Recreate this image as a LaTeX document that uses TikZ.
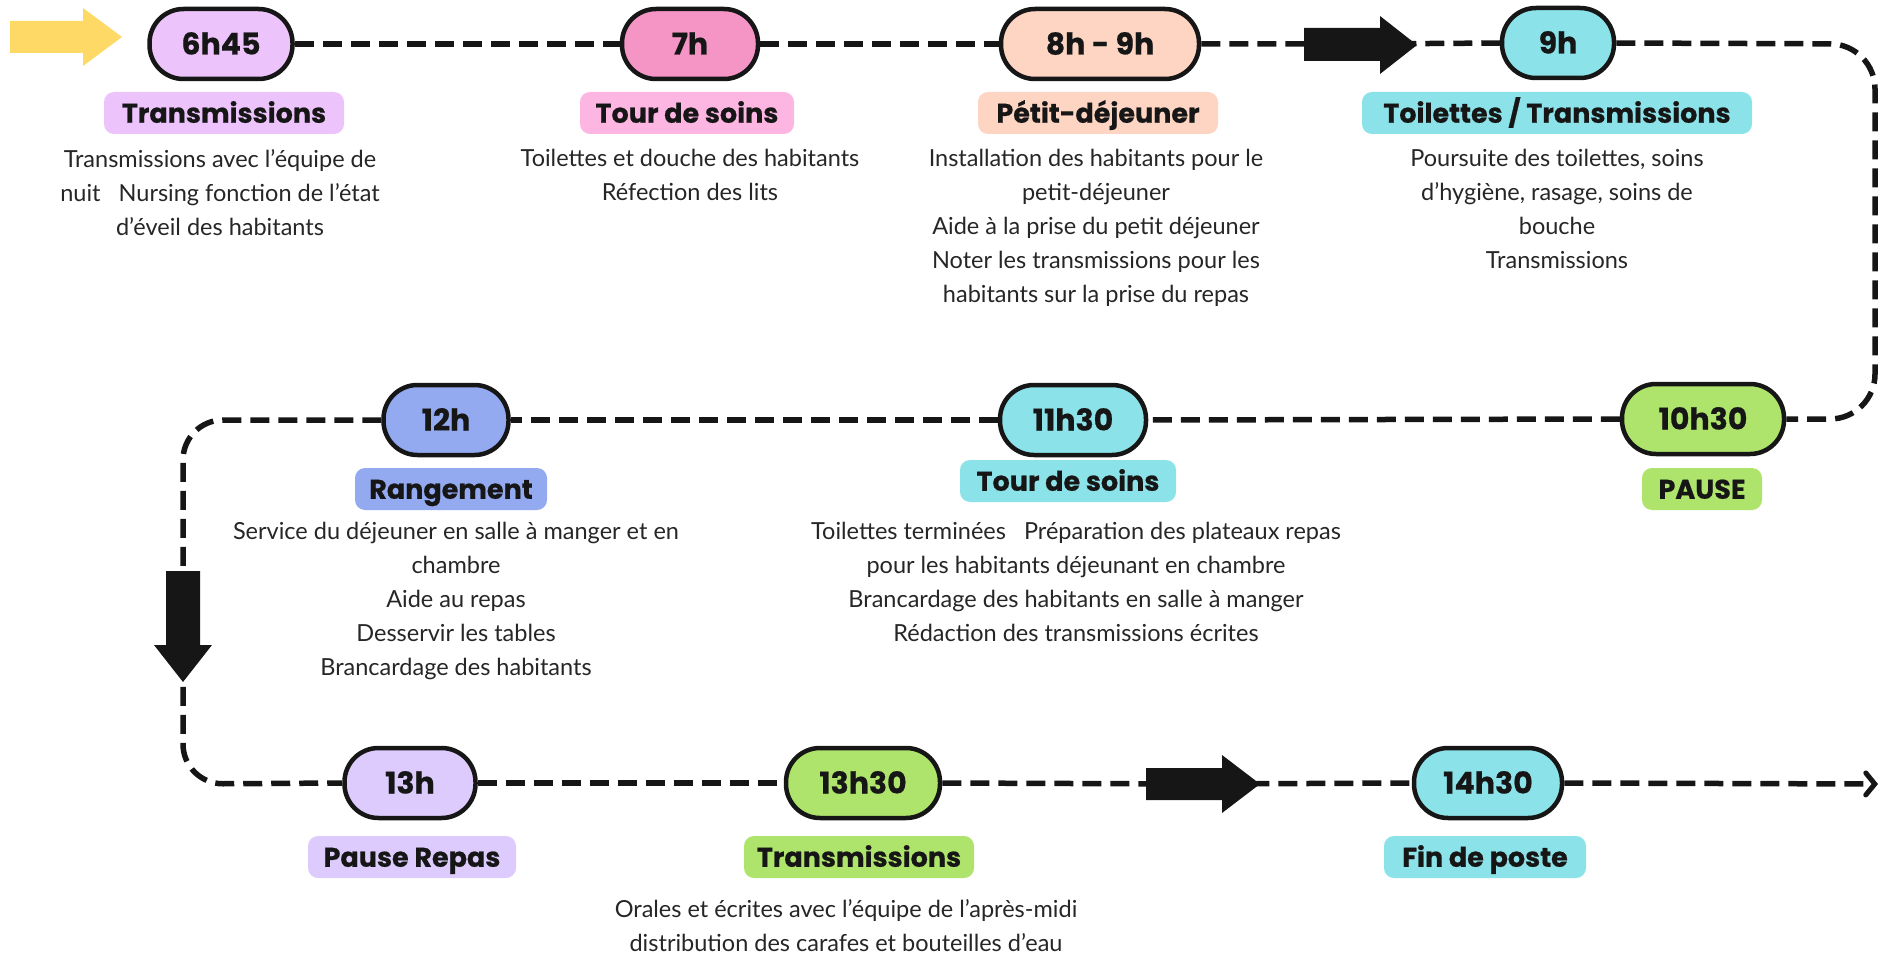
\documentclass[tikz,border=0pt]{standalone}
\usepackage{fontspec}
\setmainfont{Lato}
\newfontfamily\hfont{Poppins}[BoldFeatures={FakeBold=0.6}]
\usetikzlibrary{arrows.meta}
\definecolor{ink}{HTML}{161616}
\definecolor{lilac}{HTML}{EDC3FB}
\definecolor{pinkA}{HTML}{F595C6}
\definecolor{pinkB}{HTML}{FDB6E2}
\definecolor{peach}{HTML}{FED4C2}
\definecolor{tealc}{HTML}{8BE2E8}
\definecolor{greenc}{HTML}{AEE46B}
\definecolor{bluec}{HTML}{93AAF0}
\definecolor{lav}{HTML}{DCCBFC}
\definecolor{yel}{HTML}{FFD966}
\definecolor{desctext}{HTML}{262626}
\tikzset{
  pill/.style={draw=ink, line width=4.5pt, rounded corners=34pt, minimum height=70pt, inner sep=0pt, text height=21pt, text depth=0pt, font=\hfont\bfseries\fontsize{30}{36}\selectfont, text=ink},
  tag/.style={rounded corners=10pt, minimum height=42pt, inner sep=0pt, text height=19.5pt, text depth=0pt, font=\hfont\bfseries\fontsize{27}{30}\selectfont, text=ink},
  desc/.style={anchor=north, align=center, inner sep=0pt, font=\fontsize{23.5}{34}\selectfont, text=desctext},
  dashline/.style={draw=ink, line width=5.5pt, dash pattern=on 19pt off 9pt},
  bigarrow/.style={fill=ink},
}
\begin{document}
\begin{tikzpicture}[x=1pt,y=-1pt]
\useasboundingbox (0,0) rectangle (1882,955);
% pills
\node[pill, fill=lilac, minimum width=143pt] (p645) at (221,44) {6h45};
\node[pill, fill=pinkA, minimum width=136pt] (p7) at (690,44) {7h};
\node[pill, fill=peach, minimum width=198pt] (p89) at (1100,44) {8h - 9h};
\node[pill, fill=tealc, minimum width=112pt] (p9) at (1558,43) {9h};
\node[pill, fill=greenc, minimum width=162pt] (p1030) at (1703,419) {10h30};
\node[pill, fill=tealc, minimum width=146pt] (p1130) at (1073,420) {11h30};
\node[pill, fill=bluec, minimum width=125pt] (p12) at (446,420) {12h};
\node[pill, fill=lav, minimum width=131pt] (p13) at (410,783) {13h};
\node[pill, fill=greenc, minimum width=154pt] (p1330) at (863,783) {13h30};
\node[pill, fill=tealc, minimum width=148pt] (p1430) at (1488,783) {14h30};
% tags
\node[tag, fill=lilac, minimum width=240pt] (l645) at (224,113) {Transmissions};
\node[tag, fill=pinkB, minimum width=214pt] (l7) at (687,113) {Tour de soins};
\node[tag, fill=peach, minimum width=240pt] (l89) at (1098,113) {Pétit-déjeuner};
\node[tag, fill=tealc, minimum width=390pt] (l9) at (1557,113) {Toilettes / Transmissions};
\node[tag, fill=greenc, minimum width=120pt] (l1030) at (1702,489) {PAUSE};
\node[tag, fill=tealc, minimum width=216pt] (l1130) at (1068,481) {Tour de soins};
\node[tag, fill=bluec, minimum width=192pt] (l12) at (451,489) {Rangement};
\node[tag, fill=lav, minimum width=208pt] (l13) at (412,857) {Pause Repas};
\node[tag, fill=greenc, minimum width=230pt] (l1330) at (859,857) {Transmissions};
\node[tag, fill=tealc, minimum width=202pt] (l1430) at (1485,857) {Fin de poste};
% descriptions
\node[desc] (d645) at (220,149) {Transmissions avec l’équipe de\\nuit\ \ \ Nursing fonction de l’état\\d’éveil des habitants};
\node[desc] (d7) at (690,149) {Toilettes et douche des habitants\\Réfection des lits};
\node[desc] (d89) at (1096,149) {Installation des habitants pour le\\petit-déjeuner\\Aide à la prise du petit déjeuner\\Noter les transmissions pour les\\habitants sur la prise du repas};
\node[desc] (d9) at (1557,149) {Poursuite des toilettes, soins\\d’hygiène, rasage, soins de\\bouche\\Transmissions};
\node[desc] (d1130) at (1076,522) {Toilettes terminées\ \ \ Préparation des plateaux repas\\pour les habitants déjeunant en chambre\\Brancardage des habitants en salle à manger\\Rédaction des transmissions écrites};
\node[desc] (d12) at (456,522) {Service du déjeuner en salle à manger et en\\chambre\\Aide au repas\\Desservir les tables\\Brancardage des habitants};
\node[desc] (d1330) at (846,899) {Orales et écrites avec l’équipe de l’après-midi\\distribution des carafes et bouteilles d’eau};
% connector coordinates
\coordinate (a1) at (1360,44);
\coordinate (a2) at (183,626);
\coordinate (a3) at (1203,784);
\coordinate (endpt) at (1878,784);
% dashed connectors
\draw[dashline] (p645.east) -- (p7.west);
\draw[dashline] (p7.east) -- (p89.west);
\draw[dashline] (p89.east) -- (a1) -- (p9.west);
\draw[dashline, rounded corners=45pt] (p9.east) -- (1875,44) -- (1875,419) -- (p1030.east);
\draw[dashline] (p1030.west) -- (p1130.east);
\draw[dashline] (p1130.west) -- (p12.east);
\draw[dashline, rounded corners=40pt] (p12.west) -- (183,420) -- (a2) -- (183,784) -- (p13.west);
\draw[dashline] (p13.east) -- (p1330.west);
\draw[dashline] (p1330.east) -- (a3) -- (p1430.west);
\draw[dashline, -{Straight Barb[length=9pt,width=22pt,line width=5pt,line cap=round]}] (p1430.east) -- (endpt);
% block arrows
\fill[yel] (10,21) -- (83,21) -- (83,8) -- (122,37) -- (83,66) -- (83,53) -- (10,53) -- cycle;
\fill[bigarrow] ([shift={(-56,-16)}]a1) -- ([shift={(20,-16)}]a1) -- ([shift={(20,-28)}]a1) -- ([shift={(57,1)}]a1) -- ([shift={(20,30)}]a1) -- ([shift={(20,17)}]a1) -- ([shift={(-56,17)}]a1) -- cycle;
\fill[bigarrow] ([shift={(-17,-55)}]a2) -- ([shift={(17,-55)}]a2) -- ([shift={(17,19)}]a2) -- ([shift={(29,19)}]a2) -- ([shift={(0,56)}]a2) -- ([shift={(-29,19)}]a2) -- ([shift={(-17,19)}]a2) -- cycle;
\fill[bigarrow] ([shift={(-57,-16)}]a3) -- ([shift={(19,-16)}]a3) -- ([shift={(19,-29)}]a3) -- ([shift={(57,0)}]a3) -- ([shift={(19,29)}]a3) -- ([shift={(19,16)}]a3) -- ([shift={(-57,16)}]a3) -- cycle;
\end{tikzpicture}
\end{document}
